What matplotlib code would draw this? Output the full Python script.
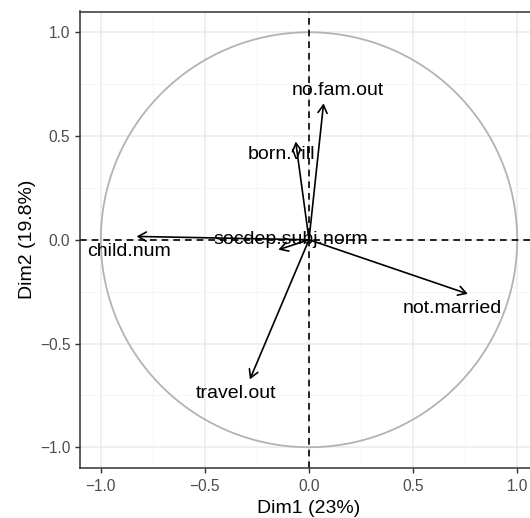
import numpy as np
import matplotlib.pyplot as plt

plt.rcParams['font.family'] = ['Liberation Sans', 'DejaVu Sans']

# variable coordinates on Dim1 / Dim2
names = ["no.fam.out", "born.vill", "child.num", "socdep.subj.norm", "not.married", "travel.out"]
dim1 = [0.07, -0.064, -0.828, -0.147, 0.763, -0.284]
dim2 = [0.657, 0.473, 0.016, -0.048, -0.261, -0.673]
# where the labels sit
lab_x = [0.138, -0.131, -0.865, -0.09, 0.69, -0.352]
lab_y = [0.72, 0.409, -0.056, 0.0, -0.333, -0.74]

ticks = [-1.0, -0.5, 0.0, 0.5, 1.0]
tick_labels = ["\u22121.0", "\u22120.5", "0.0", "0.5", "1.0"]
minor = [-0.75, -0.25, 0.25, 0.75]
xlab = "Dim1 (23%)"
ylab = "Dim2 (19.8%)"

fig = plt.figure(figsize=(5.3, 5.18), dpi=100)
ax = fig.add_axes([80/530, 50/518, 458/530, 456.5/518])
ax.set_xlim(-1.1, 1.1)
ax.set_ylim(-1.1, 1.1)

# grid
for v in ticks:
    ax.axvline(v, color='#EBEBEB', lw=1.1, zorder=0)
    ax.axhline(v, color='#EBEBEB', lw=1.1, zorder=0)
for v in minor:
    ax.axvline(v, color='#F4F4F4', lw=0.6, zorder=0)
    ax.axhline(v, color='#F4F4F4', lw=0.6, zorder=0)

# correlation circle
t = np.linspace(0, 2*np.pi, 400)
ax.plot(np.cos(t), np.sin(t), color='#B3B3B3', lw=1.3, zorder=1)

ax.axhline(0, color='black', lw=1.2, ls=(0, (4, 3)), zorder=2)
ax.axvline(0, color='black', lw=1.2, ls=(0, (4, 3)), zorder=2)

for i in range(len(names)):
    ax.annotate("", xy=(dim1[i], dim2[i]), xytext=(0, 0),
                arrowprops=dict(arrowstyle='->,head_length=0.57,head_width=0.33',
                                color='black', lw=1.2, shrinkA=0, shrinkB=0,
                                mutation_scale=10), zorder=3)
    ax.text(lab_x[i], lab_y[i], names[i], ha='center', va='center',
            fontsize=14, color='black', zorder=4)

ax.set_xticks(ticks)
ax.set_xticklabels(tick_labels)
ax.set_yticks(ticks)
ax.set_yticklabels(tick_labels)
ax.tick_params(labelsize=11.2, labelcolor='#4D4D4D', color='#333333',
               length=3.5, width=1)
ax.tick_params(axis='x', pad=4.5)
ax.set_xlabel(xlab, fontsize=14, labelpad=4)
ax.set_ylabel(ylab, fontsize=14, labelpad=3)
for s in ax.spines.values():
    s.set_color('#333333')
    s.set_linewidth(1.1)

plt.savefig("out.png", dpi=100)
